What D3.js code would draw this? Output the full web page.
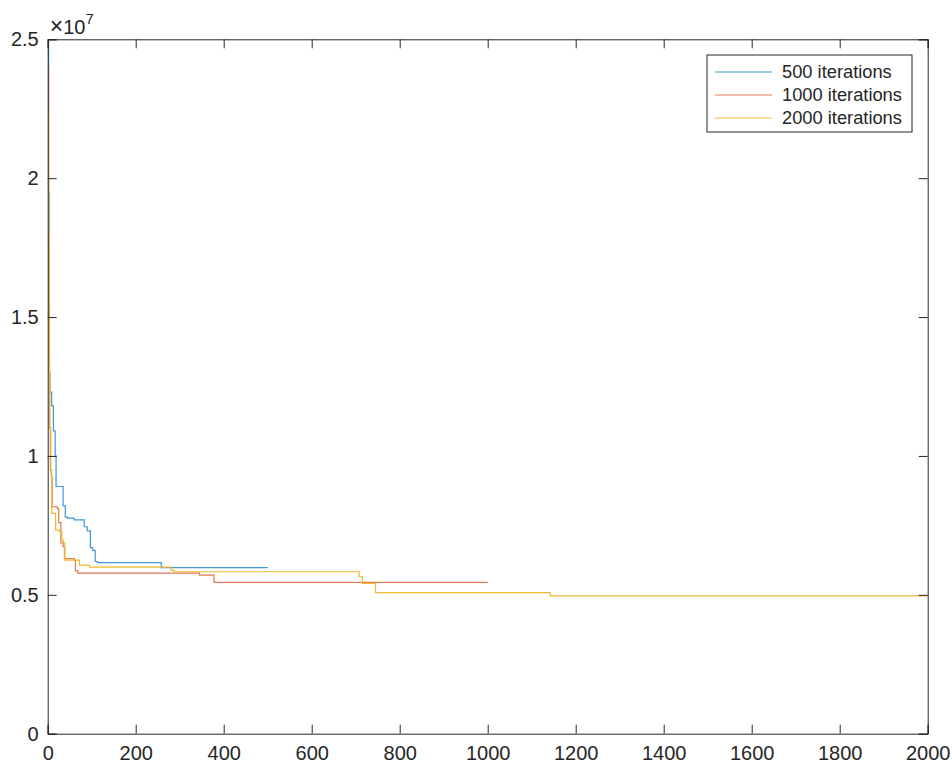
<!DOCTYPE html>
<html>
<head>
<meta charset="utf-8">
<script src="https://cdn.jsdelivr.net/npm/d3@7"></script>
<style>
  body { margin: 0; background: #fff; }
  svg { display: block; font-family: "Liberation Sans", Arial, Helvetica, sans-serif; }
</style>
</head>
<body>
<div id="chart"></div>
<script>
// best objective value per iteration (only the points where it changes)
const iter500 = [1, 2, 3, 4, 5, 9, 13, 17, 19, 35, 40, 45, 60, 83, 90, 97, 102, 108, 113, 258, 500];
const val500 = [2.5e7, 1.95e7, 1.55e7, 1.3e7, 1.23e7, 1.18e7, 1.09e7, 1.0e7, 0.89e7, 0.82e7, 0.78e7, 0.776e7, 0.77e7, 0.745e7, 0.73e7, 0.67e7, 0.66e7, 0.62e7, 0.616e7, 0.598e7, 0.598e7];

const iter1000 = [1, 2, 3, 4, 6, 8, 10, 22, 25, 30, 35, 38, 60, 63, 68, 345, 378, 1000];
const val1000 = [2.4e7, 1.75e7, 1.35e7, 1.1e7, 0.95e7, 0.925e7, 0.817e7, 0.81e7, 0.76e7, 0.687e7, 0.673e7, 0.63e7, 0.625e7, 0.587e7, 0.578e7, 0.571e7, 0.545e7, 0.545e7];

const iter2000 = [1, 2, 3, 4, 5, 7, 9, 18, 27, 32, 36, 39, 72, 95, 280, 287, 708, 715, 745, 1142, 2000];
const val2000 = [2.24e7, 1.8e7, 1.5e7, 1.3e7, 1.1e7, 0.95e7, 0.793e7, 0.733e7, 0.727e7, 0.697e7, 0.686e7, 0.625e7, 0.607e7, 0.6e7, 0.589e7, 0.583e7, 0.565e7, 0.541e7, 0.508e7, 0.496e7, 0.496e7];

const seriesNames = ["500 iterations", "1000 iterations", "2000 iterations"];
const xTicks = [0, 200, 400, 600, 800, 1000, 1200, 1400, 1600, 1800, 2000];
const yTicks = [0, 0.5e7, 1e7, 1.5e7, 2e7, 2.5e7];

const COLORS = ["#3f97d4", "#e47a4f", "#efb832"];
const AXIS_COLOR = "#262626";

let width = 952, height = 765;
let plotLeft = 47.7, plotRight = 927.7, plotTop = 39.3, plotBottom = 733.7;

let svg = d3.select("#chart").append("svg")
    .attr("width", width)
    .attr("height", height);

let x = d3.scaleLinear().domain([0, 2000]).range([plotLeft, plotRight]);
let y = d3.scaleLinear().domain([0, 2.5e7]).range([plotBottom, plotTop]);

let series = [
  { name: seriesNames[0], pts: iter500.map((d, i) => [d, val500[i]]) },
  { name: seriesNames[1], pts: iter1000.map((d, i) => [d, val1000[i]]) },
  { name: seriesNames[2], pts: iter2000.map((d, i) => [d, val2000[i]]) }
];

let line = d3.line()
    .x(d => x(d[0]))
    .y(d => y(d[1]))
    .curve(d3.curveStepAfter);

svg.append("g")
   .selectAll("path")
   .data(series)
   .enter()
   .append("path")
   .attr("d", d => line(d.pts))
   .attr("fill", "none")
   .attr("stroke", (d, i) => COLORS[i])
   .attr("stroke-width", 1.2);

// axes, ticks pointing inwards on all four sides (box on)
function styleAxis(g) {
  g.select(".domain").attr("stroke", AXIS_COLOR);
  g.selectAll(".tick line").attr("stroke", AXIS_COLOR);
  g.selectAll(".tick text").attr("fill", AXIS_COLOR).style("font-size", "20px");
}

svg.append("g")
   .attr("transform", `translate(0,${plotBottom})`)
   .call(d3.axisBottom(x).tickValues(xTicks).tickSize(-9).tickPadding(12.5).tickFormat(d3.format("d")))
   .call(styleAxis);

svg.append("g")
   .attr("transform", `translate(0,${plotTop})`)
   .call(d3.axisTop(x).tickValues(xTicks).tickSize(-9).tickFormat(""))
   .call(styleAxis);

svg.append("g")
   .attr("transform", `translate(${plotLeft},0)`)
   .call(d3.axisLeft(y).tickValues(yTicks).tickSize(-9).tickPadding(9).tickFormat(d => d / 1e7))
   .call(styleAxis);

svg.append("g")
   .attr("transform", `translate(${plotRight},0)`)
   .call(d3.axisRight(y).tickValues(yTicks).tickSize(-9).tickFormat(""))
   .call(styleAxis);

// exponent label
let expo = svg.append("text")
   .attr("x", plotLeft + 2)
   .attr("y", 34)
   .attr("fill", AXIS_COLOR)
   .style("font-size", "20px");
expo.append("tspan").style("font-size", "23px").text("\u00d7");
expo.append("tspan").text("10");
expo.append("tspan").attr("dy", -10).style("font-size", "15px").text("7");

// legend
let legend = svg.append("g");
legend.append("rect")
   .attr("x", 707).attr("y", 55)
   .attr("width", 205).attr("height", 77)
   .attr("fill", "#fff")
   .attr("stroke", AXIS_COLOR);

let legendY = d3.scalePoint().domain(seriesNames).range([72, 118]);

let items = legend.selectAll("g.item")
   .data(seriesNames)
   .enter()
   .append("g")
   .attr("class", "item")
   .attr("transform", d => `translate(0,${legendY(d)})`);

items.append("line")
   .attr("x1", 715).attr("x2", 772)
   .attr("stroke", (d, i) => COLORS[i])
   .attr("stroke-width", 1.2);

items.append("text")
   .attr("x", 782)
   .attr("dy", "0.35em")
   .attr("fill", AXIS_COLOR)
   .style("font-size", "18.3px")
   .text(d => d);
</script>
</body>
</html>
